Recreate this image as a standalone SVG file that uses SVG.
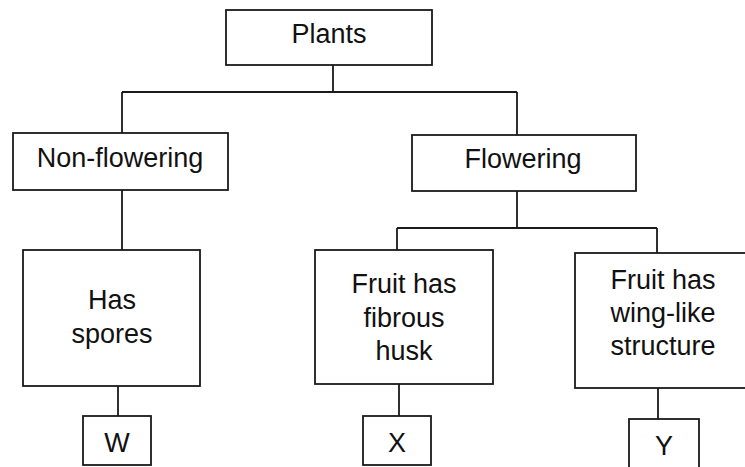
<svg xmlns="http://www.w3.org/2000/svg" width="745" height="467" viewBox="0 0 745 467">
<style>
.box{fill:#fff;stroke:#1a1a1a;stroke-width:1.8}
.ln{fill:none;stroke:#1a1a1a;stroke-width:1.8}
text{font-family:"Liberation Sans",Arial,sans-serif;font-size:27px;fill:#111;text-anchor:middle}
</style>
<rect width="745" height="467" fill="#fff"/>
<g id="connectors">
<path class="ln" d="M333 65V92M122 92H517M122 92V133M517 92V135"/>
<path class="ln" d="M122 190V250M118 386V416"/>
<path class="ln" d="M517 191V228M397 228H657M397 228V250M657 228V253"/>
<path class="ln" d="M399 384V416M658 388V419"/>
</g>
<g id="plants"><rect class="box" x="226" y="10" width="206" height="55"/><text x="329" y="43">Plants</text></g>
<g id="nonflowering"><rect class="box" x="13" y="133" width="215" height="57"/><text x="120" y="167">Non-flowering</text></g>
<g id="flowering"><rect class="box" x="412" y="135" width="224" height="56"/><text x="523" y="168">Flowering</text></g>
<g id="spores"><rect class="box" x="23" y="250" width="177" height="136"/><text x="112" y="309">Has</text><text x="112" y="343">spores</text></g>
<g id="husk"><rect class="box" x="315" y="250" width="178" height="134"/><text x="404" y="293">Fruit has</text><text x="404" y="327">fibrous</text><text x="404" y="360">husk</text></g>
<g id="wing"><rect class="box" x="575" y="253" width="175" height="135"/><text x="663" y="289">Fruit has</text><text x="663" y="322">wing-like</text><text x="663" y="355">structure</text></g>
<g id="w"><rect class="box" x="83" y="416" width="68" height="49"/><text x="117" y="452">W</text></g>
<g id="x"><rect class="box" x="363" y="416" width="68" height="49"/><text x="397" y="452">X</text></g>
<g id="y"><rect class="box" x="629" y="419" width="70" height="50"/><text x="664" y="455">Y</text></g>
</svg>
